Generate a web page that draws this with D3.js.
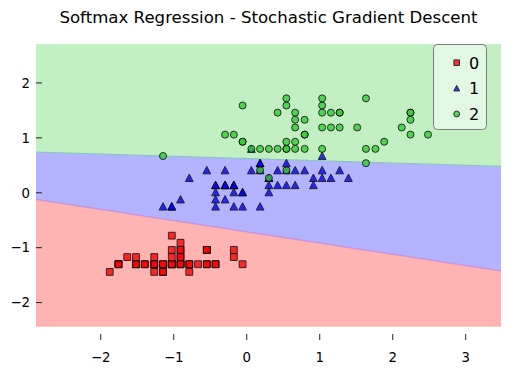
<!DOCTYPE html>
<html>
<head>
<meta charset="utf-8">
<script src="https://cdnjs.cloudflare.com/ajax/libs/d3/7.8.5/d3.min.js"></script>
<style>
  body { margin: 0; background: #fff; }
  svg { display: block; }
</style>
</head>
<body>
<div id="chart"></div>
<script>
// standardized sepal length (x) / petal width (y)
var class0X = [-0.90, -1.14, -1.39, -1.51, -1.02, -0.54, -1.51, -1.02, -1.75, -1.14,
    -0.54, -1.26, -1.26, -1.87, -0.05, -0.17, -0.54, -0.90, -0.17, -0.90,
    -0.54, -0.90, -1.51, -0.90, -1.26, -1.02, -1.02, -0.78, -0.78, -1.39,
    -1.26, -0.54, -0.78, -0.42, -1.14, -1.02, -0.42, -1.14, -1.75, -0.90,
    -1.02, -1.63, -1.75, -1.02, -0.90, -1.26, -0.90, -1.51, -0.66, -1.02];
var class0Y = [-1.31, -1.31, -1.31, -1.31, -1.31, -1.05, -1.18, -1.31, -1.31, -1.45,
    -1.31, -1.31, -1.45, -1.45, -1.31, -1.05, -1.05, -1.18, -1.18, -1.18,
    -1.31, -1.05, -1.31, -0.92, -1.31, -1.31, -1.05, -1.31, -1.31, -1.31,
    -1.31, -1.05, -1.45, -1.31, -1.31, -1.31, -1.31, -1.45, -1.31, -1.31,
    -1.18, -1.18, -1.31, -0.79, -1.05, -1.18, -1.31, -1.31, -1.31, -1.31];

var class1X = [1.40, 0.67, 1.28, -0.42, 0.80, -0.17, 0.55, -1.14, 0.92, -0.78,
    -1.02, 0.07, 0.19, 0.31, -0.29, 1.04, -0.29, -0.05, 0.43, -0.29,
    0.07, 0.31, 0.55, 0.31, 0.67, 0.92, 1.16, 1.04, 0.19, -0.17,
    -0.42, -0.42, -0.05, 0.19, -0.54, 0.19, 1.04, 0.55, -0.29, -0.42,
    -0.42, 0.31, -0.05, -1.02, -0.29, -0.17, -0.17, 0.43, -0.90, -0.17];
var class1Y = [0.26, 0.40, 0.40, 0.13, 0.40, 0.13, 0.53, -0.26, 0.13, 0.26,
    -0.26, 0.40, -0.26, 0.26, 0.13, 0.26, 0.40, -0.26, 0.40, -0.13,
    0.79, 0.13, 0.40, 0.00, 0.13, 0.26, 0.26, 0.66, 0.40, -0.26,
    -0.13, -0.26, 0.00, 0.53, 0.40, 0.53, 0.40, 0.13, 0.13, 0.13,
    0.00, 0.26, 0.00, -0.26, 0.13, 0.00, 0.13, 0.13, -0.13, 0.13];

var class2X = [0.55, -0.05, 1.52, 0.55, 0.80, 2.13, -1.14, 1.77, 1.04, 1.64,
    0.80, 0.67, 1.16, -0.17, -0.05, 0.67, 0.80, 2.25, 2.25, 0.19,
    1.28, -0.29, 2.25, 0.55, 1.04, 1.64, 0.43, 0.31, 0.67, 1.64,
    1.89, 2.49, 0.67, 0.55, 0.31, 2.25, 0.55, 0.67, 0.19, 1.28,
    1.04, 1.28, -0.05, 1.16, 1.04, 1.04, 0.55, 0.80, 0.43, 0.07];
var class2Y = [1.71, 0.92, 1.18, 0.79, 1.32, 1.18, 0.66, 0.79, 0.79, 1.71,
    1.05, 0.92, 1.18, 1.05, 1.58, 1.45, 0.79, 1.32, 1.45, 0.40,
    1.45, 1.05, 1.05, 0.79, 1.18, 0.79, 0.79, 0.79, 1.18, 0.53,
    0.92, 1.05, 1.32, 0.40, 0.26, 1.45, 1.58, 0.79, 0.79, 1.18,
    1.58, 1.45, 0.92, 1.45, 1.71, 1.45, 0.92, 1.05, 1.45, 0.79];

var classLabels = ['0', '1', '2'];
var xTicks = [-2, -1, 0, 1, 2, 3];
var yTicks = [-2, -1, 0, 1, 2];

// decision grid extent and region borders (y at left / right end of grid)
var gridX = [-2.88, 3.49];
var gridY = [-2.45, 2.70];
var border12 = [0.73, 0.47];
var border01 = [-0.13, -1.43];

var W = 511, H = 370;
var regionFill = ['#ffb3b3', '#b3b3ff', '#c2f0c2'];
var borderColor = ['#c890dc', '#8cc2c8'];
var markerFill = ['red', 'blue', 'limegreen'];

var svg = d3.select('#chart').append('svg')
    .attr('width', W)
    .attr('height', H)
    .style('font-family', 'DejaVu Sans, sans-serif');

var x = d3.scaleLinear().domain([-2.88, 3.49]).range([36, 501]);
var y = d3.scaleLinear().domain([-2.69, 2.70]).range([340, 44]);

// regions
var x0 = gridX[0], x1 = gridX[1];
var regions = [
    [[x0, gridY[0]], [x1, gridY[0]], [x1, border01[1]], [x0, border01[0]]],
    [[x0, border01[0]], [x1, border01[1]], [x1, border12[1]], [x0, border12[0]]],
    [[x0, border12[0]], [x1, border12[1]], [x1, gridY[1]], [x0, gridY[1]]]
];
var line = d3.line().x(function(d) { return x(d[0]); }).y(function(d) { return y(d[1]); });

svg.selectAll('path.region').data(regions).enter()
    .append('path')
    .attr('class', 'region')
    .attr('d', function(d) { return line(d) + 'Z'; })
    .attr('fill', function(d, i) { return regionFill[i]; });

var borders = [
    [[x0, border01[0]], [x1, border01[1]]],
    [[x0, border12[0]], [x1, border12[1]]]
];
svg.selectAll('path.border').data(borders).enter()
    .append('path')
    .attr('class', 'border')
    .attr('d', line)
    .attr('fill', 'none')
    .attr('stroke', function(d, i) { return borderColor[i]; })
    .attr('stroke-width', 1.2);

// axes: ticks point inward, spines hidden
var fmt = function(d) { return d < 0 ? '\u2212' + Math.abs(d) : d; };
var xAxis = svg.append('g')
    .attr('transform', 'translate(0,340)')
    .call(d3.axisBottom(x).tickValues(xTicks).tickSizeInner(-6).tickPadding(12).tickFormat(fmt));
var yAxis = svg.append('g')
    .attr('transform', 'translate(36,0)')
    .call(d3.axisLeft(y).tickValues(yTicks).tickSizeInner(-6).tickPadding(6).tickFormat(fmt));

[xAxis, yAxis].forEach(function(ax) {
    ax.select('.domain').remove();
    ax.selectAll('.tick line').attr('stroke', '#222').attr('stroke-width', 1);
    ax.selectAll('.tick text')
        .attr('fill', '#000')
        .style('font-size', '13.3px')
        .style('font-family', 'DejaVu Sans, sans-serif');
});
yAxis.selectAll('.tick text').attr('dy', '0.36em');
xAxis.selectAll('.tick text').attr('dy', '0.76em');

// markers
function symbolPath(cls, r) {
    if (cls === 0) {
        return 'M' + (-r) + ',' + (-r) + 'H' + r + 'V' + r + 'H' + (-r) + 'Z';
    }
    if (cls === 1) {
        return 'M0,' + (-r * 1.05) + 'L' + (r * 1.05) + ',' + (r * 0.95) + 'L' + (-r * 1.05) + ',' + (r * 0.95) + 'Z';
    }
    return null;
}

function drawClass(xs, ys, cls) {
    var pts = xs.map(function(v, i) { return [v, ys[i]]; });
    var g = svg.append('g');
    if (cls === 2) {
        g.selectAll('circle').data(pts).enter()
            .append('circle')
            .attr('cx', function(d) { return x(d[0]); })
            .attr('cy', function(d) { return y(d[1]); })
            .attr('r', 3.5)
            .attr('fill', markerFill[cls])
            .attr('stroke', '#000')
            .attr('stroke-width', 1)
            .attr('opacity', 0.8);
    } else {
        g.selectAll('path').data(pts).enter()
            .append('path')
            .attr('transform', function(d) { return 'translate(' + x(d[0]) + ',' + y(d[1]) + ')'; })
            .attr('d', symbolPath(cls, cls === 0 ? 3.4 : 3.7))
            .attr('fill', markerFill[cls])
            .attr('stroke', '#000')
            .attr('stroke-width', 1)
            .attr('opacity', 0.8);
    }
}

drawClass(class0X, class0Y, 0);
drawClass(class1X, class1Y, 1);
drawClass(class2X, class2Y, 2);

// title
svg.append('text')
    .attr('x', 268.5)
    .attr('y', 23)
    .attr('text-anchor', 'middle')
    .style('font-size', '16.6px')
    .text('Softmax Regression - Stochastic Gradient Descent');

// legend
var legend = svg.append('g');
legend.append('rect')
    .attr('x', 433.5)
    .attr('y', 44.5)
    .attr('width', 53)
    .attr('height', 85)
    .attr('rx', 4)
    .attr('fill', '#fff')
    .attr('fill-opacity', 0.55)
    .attr('stroke', '#7a7a7a')
    .attr('stroke-width', 1);

var legendY = [62.7, 88.3, 114];
classLabels.forEach(function(lab, i) {
    var ly = legendY[i];
    if (i === 2) {
        legend.append('circle')
            .attr('cx', 456.7).attr('cy', ly).attr('r', 2.9)
            .attr('fill', markerFill[i]).attr('stroke', '#000').attr('opacity', 0.8);
    } else {
        legend.append('path')
            .attr('transform', 'translate(456.7,' + ly + ')')
            .attr('d', symbolPath(i, 2.8))
            .attr('fill', markerFill[i]).attr('stroke', '#000').attr('opacity', 0.8);
    }
    legend.append('text')
        .attr('x', 469)
        .attr('y', ly + 5.8)
        .style('font-size', '16px')
        .text(lab);
});
</script>
</body>
</html>
